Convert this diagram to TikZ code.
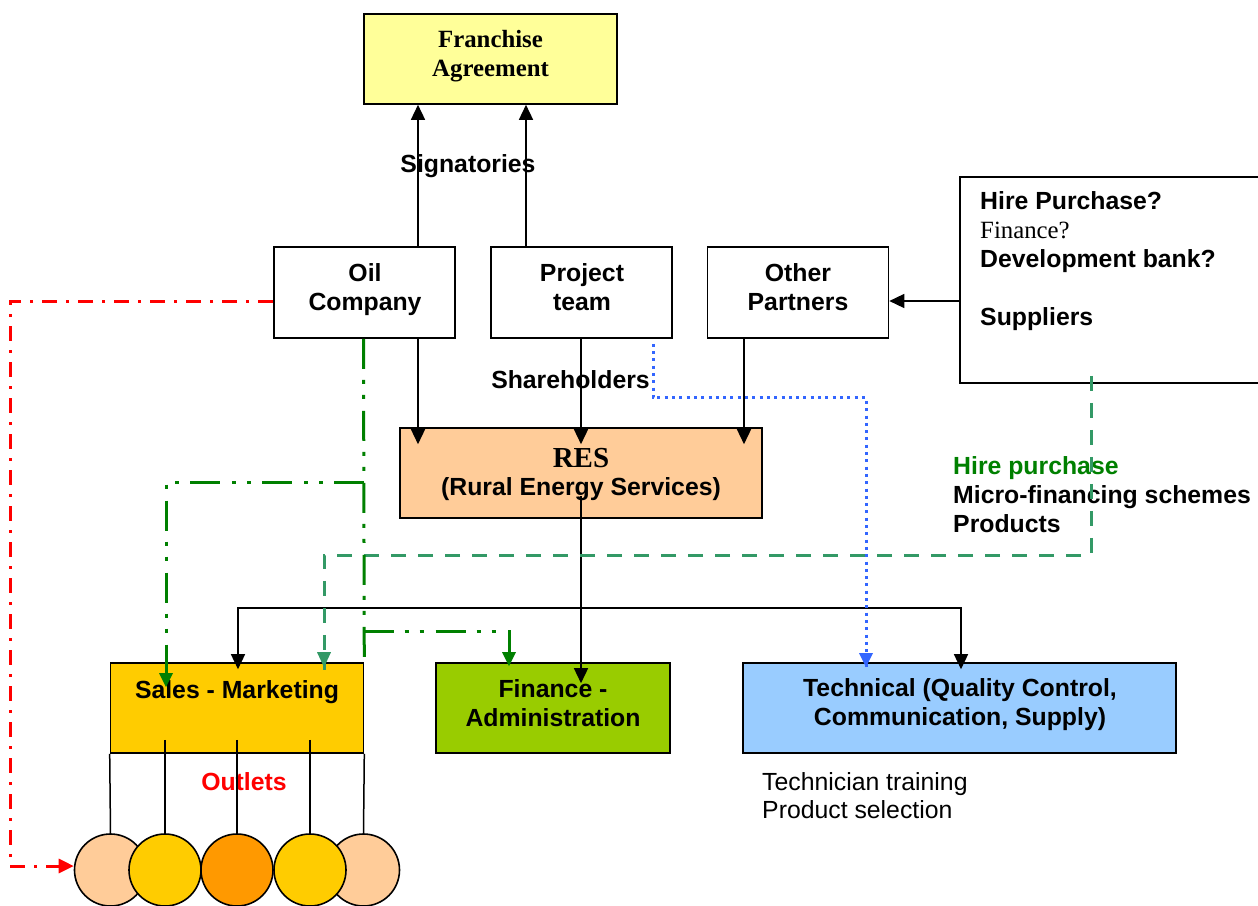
\documentclass[tikz,border=0pt]{standalone}
\usepackage{fontspec}
\setmainfont{Liberation Serif}
\setsansfont{Liberation Sans}
\usetikzlibrary{arrows.meta,calc}
\definecolor{frY}{HTML}{FFFF99}
\definecolor{resC}{HTML}{FFCC99}
\definecolor{salesC}{HTML}{FFCC00}
\definecolor{finC}{HTML}{99CC00}
\definecolor{techC}{HTML}{99CCFF}
\definecolor{orC}{HTML}{FF9900}
\definecolor{dgreen}{HTML}{008000}
\definecolor{sgreen}{HTML}{339966}
\definecolor{bblue}{HTML}{3366FF}
\definecolor{rred}{HTML}{FF0000}
\tikzset{
  box/.style={draw=black, line width=1.6pt, inner sep=0pt},
  lbl/.style={font=\sffamily\bfseries\fontsize{24.8}{28.8}\selectfont, inner sep=0pt, align=center},
  lbll/.style={font=\sffamily\bfseries\fontsize{24.8}{28.8}\selectfont, inner sep=0pt, align=left},
  serifb/.style={font=\rmfamily\bfseries\fontsize{24.8}{29}\selectfont, inner sep=0pt, align=center},
  conn/.style={line width=1.5pt, draw=black},
  arr/.style={conn, -{Triangle[length=15pt,width=14pt]}},
  reddd/.style={draw=rred, line width=3pt, dash pattern=on 15pt off 9pt on 3pt off 9pt, -{Triangle[length=15pt,width=14pt]}},
  greendd/.style={draw=dgreen, line width=3pt, dash pattern=on 30pt off 11pt on 4pt off 11pt on 4pt off 12pt},
  seadash/.style={draw=sgreen, line width=3pt, dash pattern=on 15pt off 12pt},
  bluedot/.style={draw=bblue, line width=3pt, dash pattern=on 3pt off 4.3pt},
  outlet/.style={circle, draw=black, line width=1.6pt, minimum size=72pt, inner sep=0pt}
}
\begin{document}
\begin{tikzpicture}[x=1pt,y=-1pt]
\useasboundingbox (0,0) rectangle (1258,905);
\clip (0,0) rectangle (1258,905);
% boxes
\node[box, fill=frY, minimum width=253pt, minimum height=90pt] (fr) at (490.5,59) {};
\node[serifb, anchor=base] (frT) at (490.5,76) {Franchise\\Agreement};
\node[box, fill=white, minimum width=181pt, minimum height=91pt] (oil) at (364.5,292.5) {};
\node[lbl, anchor=base] (oilT) at (365,310) {Oil\\Company};
\node[box, fill=white, minimum width=181pt, minimum height=91pt] (proj) at (581.5,292.5) {};
\node[lbl, anchor=base] (projT) at (582,310) {Project\\team};
\node[box, fill=white, minimum width=181pt, minimum height=91pt] (oth) at (798,292.5) {};
\node[lbl, anchor=base] (othT) at (798,310) {Other\\Partners};
\node[box, fill=white, minimum width=310pt, minimum height=206pt] (fin) at (1115,280) {};
\node[lbll, anchor=base west] (finT) at (980,325) {Hire Purchase?\\{\rmfamily\mdseries Finance?}\\Development bank?\\\strut\\Suppliers};
\node[box, fill=resC, minimum width=362pt, minimum height=90pt] (res) at (581,473) {};
\node[font=\rmfamily\bfseries\fontsize{29}{33}\selectfont, inner sep=0pt, anchor=base] (resT) at (581,467) {RES};
\node[lbl, anchor=base] (resT2) at (581,495) {(Rural Energy Services)};
\node[box, fill=salesC, minimum width=253pt, minimum height=90pt] (sales) at (237,708) {};
\node[lbl, anchor=base] (salesT) at (237,698) {Sales - Marketing};
\node[box, fill=finC, minimum width=234pt, minimum height=90pt] (fa) at (553,708) {};
\node[lbl, anchor=base] (faT) at (553,726) {Finance -\\Administration};
\node[box, fill=techC, minimum width=433pt, minimum height=90pt] (tech) at (959.5,708) {};
\node[lbl, anchor=base] (techT) at (960,725) {Technical (Quality Control,\\Communication, Supply)};
% free labels
\node[lbl, anchor=base] (sig) at (468,172) {Signatories};
\node[lbl, anchor=base] (sh) at (570.5,388) {Shareholders};
\node[lbll, anchor=base west] (hp) at (953,532) {\textcolor{dgreen}{Hire purchase}\\Micro-financing schemes\\Products};
\node[lbl, anchor=base, text=rred] (outl) at (244,790) {Outlets};
\node[font=\sffamily\fontsize{24.8}{28}\selectfont, inner sep=0pt, align=left, anchor=base west] (tt) at (762,818) {Technician training\\Product selection};
% outlets
\node[outlet, fill=resC] (c1) at (110.5,870) {};
\node[outlet, fill=resC] (c5) at (363.5,870) {};
\node[outlet, fill=salesC] (c2) at (165,870) {};
\node[outlet, fill=orC] (c3) at (237,870) {};
\node[outlet, fill=salesC] (c4) at (310,870) {};
% connectors top
\draw[arr] ([xshift=53.5pt]oil.north) -- ([xshift=-72.5pt]fr.south);
\draw[arr] ([xshift=-55.5pt]proj.north) -- ([xshift=35.5pt]fr.south);
\draw[arr] ([yshift=-21pt]fin.west) -- ([yshift=-8.5pt]oth.east);
\draw[arr] ([xshift=53.5pt]oil.south) -- ([xshift=-163pt,yshift=-17pt]res.north);
\draw[arr] ([xshift=-0.5pt]proj.south) -- ([yshift=-17pt]res.north);
\draw[arr] ([xshift=-54pt]oth.south) -- ([xshift=163pt,yshift=-17pt]res.north);
% RES down
\draw[arr] ([yshift=23pt]res.south) -- ([xshift=28pt,yshift=-21pt]fa.north);
\coordinate (j) at (581,608);
\draw[arr] (j) -| ([xshift=1pt,yshift=-7pt]sales.north);
\draw[arr] (j) -| ([xshift=1.5pt,yshift=-7pt]tech.north);
% outlet lines
\draw[conn] (sales.south west) -- (c1.north);
\draw[conn] ([xshift=-72pt,yshift=14pt]sales.south) -- (c2.north);
\draw[conn] ([yshift=14pt]sales.south) -- (c3.north);
\draw[conn] ([xshift=73pt,yshift=14pt]sales.south) -- (c4.north);
\draw[conn] (sales.south east) -- (c5.north);
% blue dotted
\draw[bluedot] ([xshift=71.5pt,yshift=-5pt]proj.south) -- ++(0,54) -| ([xshift=-93.5pt,yshift=-7pt]tech.north);
\draw[draw=none, fill=bblue] ([xshift=-93.5pt,yshift=-5pt]tech.north) ++(-7,-14) -- ++(14,0) -- ++(-7,14) -- cycle;
% sea green dashed
\coordinate (sgTurn) at (1091,555);
\draw[seadash] ([xshift=-24pt,yshift=8pt]fin.south) -- (sgTurn) -| ([xshift=87pt,yshift=-8pt]sales.north);
\draw[draw=none, fill=sgreen] ([xshift=87pt,yshift=-5pt]sales.north) ++(-7,-15) -- ++(14,0) -- ++(-7,15) -- cycle;
% dark green dash-dot-dot
\coordinate (g1) at (363.5,482);
\coordinate (g2) at (363.5,631);
\draw[greendd] ([xshift=-1pt]oil.south) -- ([yshift=-5pt]sales.north east);
\draw[greendd] (g1) -| ([xshift=-71pt,yshift=-12pt]sales.north);
\draw[draw=none, fill=dgreen] ([xshift=-71pt,yshift=-25pt]sales.north) ++(-7,-14) -- ++(14,0) -- ++(-7,14) -- cycle;
\draw[greendd] (g2) -| ([xshift=-44pt,yshift=-2pt]fa.north);
\draw[draw=none, fill=dgreen] ([xshift=-44pt,yshift=-4pt]fa.north) ++(-7,-14) -- ++(14,0) -- ++(-7,14) -- cycle;
% red dash-dot
\coordinate (rl) at (10,584);
\draw[reddd] ([yshift=-9pt]oil.west) -| (rl) |- ([yshift=4pt]c1.west);
\end{tikzpicture}
\end{document}
